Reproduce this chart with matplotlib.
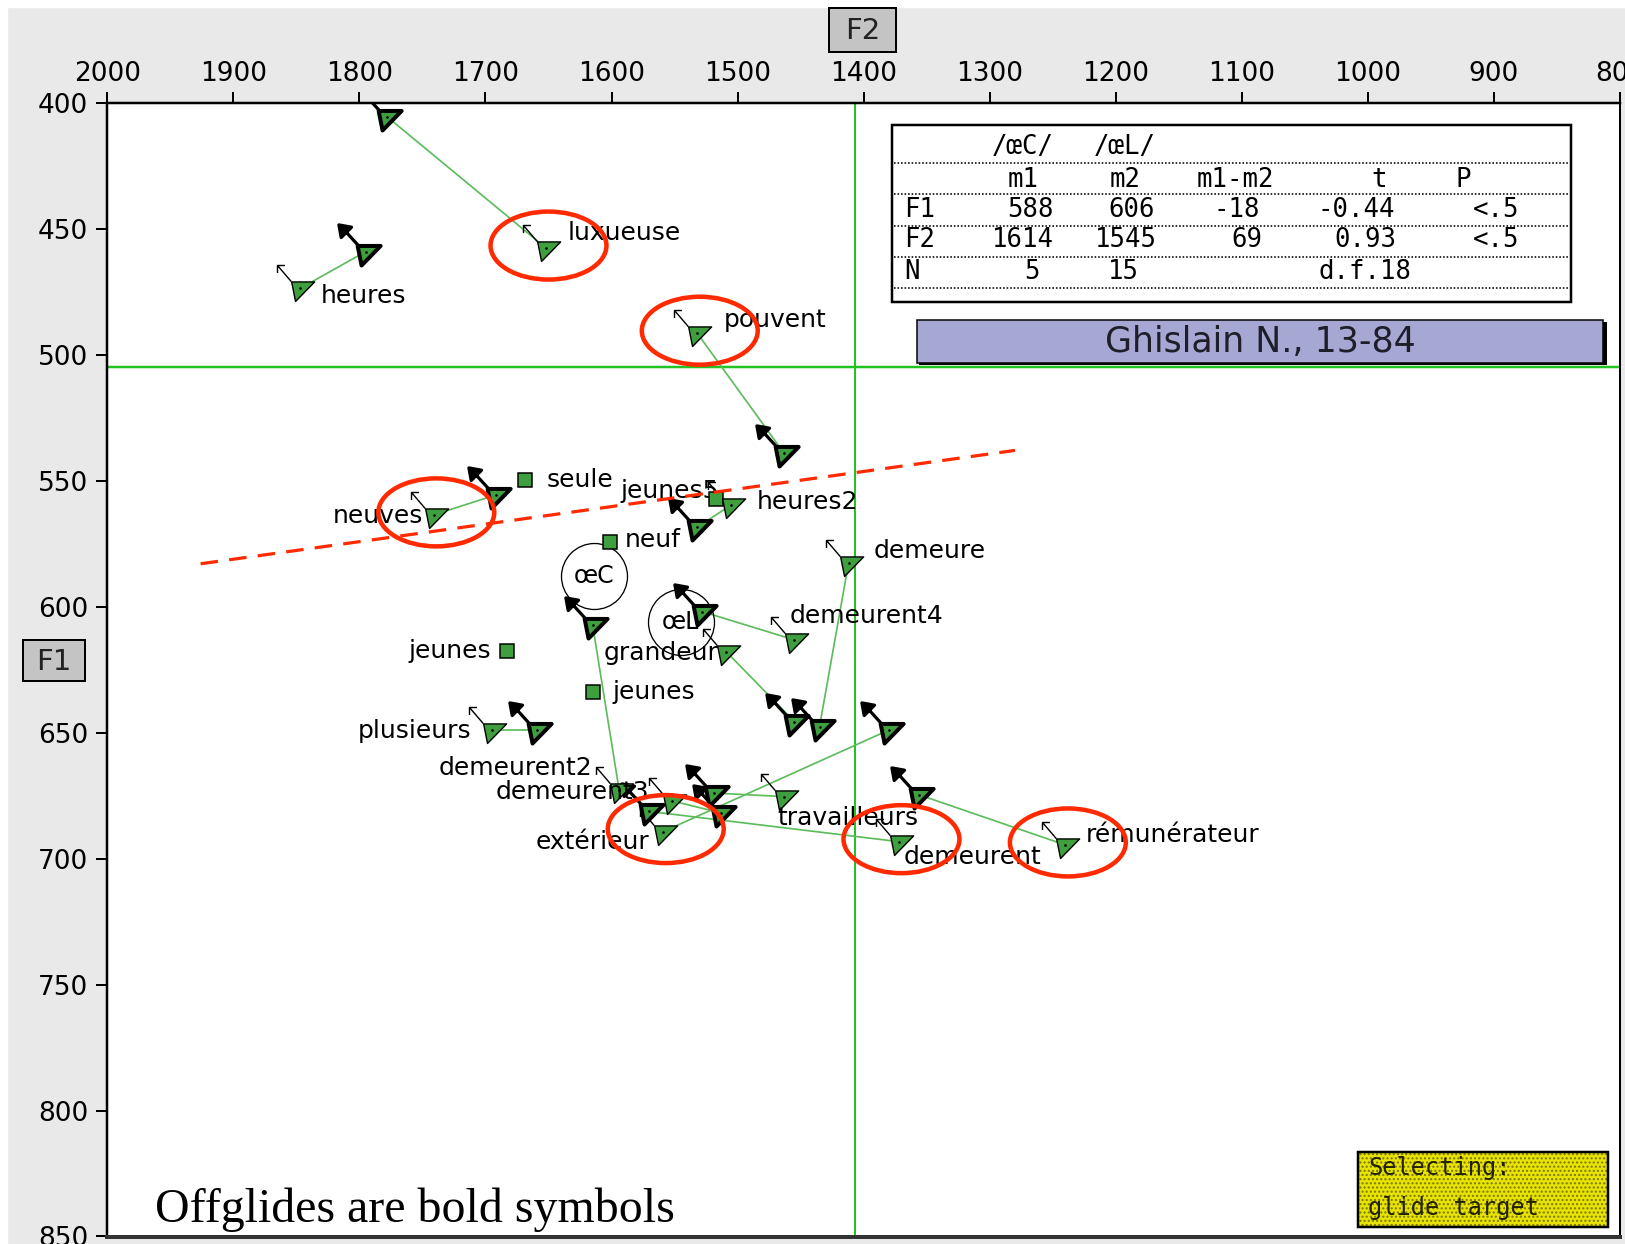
import numpy as np
import matplotlib
matplotlib.use('Agg')
import matplotlib.pyplot as plt
from matplotlib.path import Path
from matplotlib.markers import MarkerStyle
from matplotlib.patches import Rectangle, Ellipse

# ---------------- data ----------------
diph_words = ['luxueuse', 'heures', 'pouvent', 'neuves', 'heures2', 'demeure',
              'demeurent4', 'grandeur', 'demeurent2', 'plusieurs', 'demeurent3',
              'travailleurs', 'extérieur', 'demeurent', 'rémunérateur']
nuc_F2 = [1652, 1847, 1532, 1741, 1505, 1412, 1455, 1509, 1594, 1695, 1552, 1463, 1559, 1372, 1240]
nuc_F1 = [457.7, 473.7, 491.5, 563.6, 559.6, 582.8, 613.2, 617.9, 672.7, 649, 677.1, 675.4, 689.3, 693.3, 694.6]
off_F2 = [1778, 1795, 1463, 1692, 1532, 1435, 1528, 1455, 1615, 1659, 1513, 1519, 1380, 1570, 1356]
off_F1 = [405.6, 459.1, 539.2, 555.7, 568.5, 647.6, 602, 645.6, 607.3, 649, 681.9, 674, 649, 681.3, 674.7]

mono_words = ['seule', 'jeunes5', 'neuf', 'jeunes', 'jeunes']
mono_F2 = [1669, 1517, 1601, 1615, 1683]
mono_F1 = [549.7, 557.4, 574.2, 633.7, 617.5]

mean_labels = ['œC', 'œL']
mean_F1 = [588, 606]
mean_F2 = [1614, 1545]

ref_F1 = 505
ref_F2 = 1407
boundary_F2 = [1926, 1280]
boundary_F1 = [583, 538]

circled = ['luxueuse', 'pouvent', 'neuves', 'extérieur', 'demeurent', 'rémunérateur']

x_ticks = list(range(2000, 799, -100))
y_ticks = list(range(400, 851, 50))

table_header = ['/œC/', '/œL/']
table_cols = ['m1', 'm2', 'm1-m2', 't', 'P']
table_rows = [['F1', '588', '606', '-18', '-0.44', '<.5'],
              ['F2', '1614', '1545', '69', '0.93', '<.5'],
              ['N', '5', '15', '', 'd.f.18', '']]
speaker = 'Ghislain N., 13-84'
note = 'Offglides are bold symbols'
status = ['Selecting:', 'glide target']
x_name, y_name = 'F2', 'F1'

# ---------------- layout / style ----------------
W, H = 1625, 1244
DPI = 100
PT = 72.0 / DPI
GREEN = '#3f9f3f'
LINE_GREEN = '#5cbc5c'
MEAN_GREEN = '#22c322'
RED = '#ff2a00'
GRAY_BG = '#e9e9e9'
LABEL_FS = 18

diph_offsets = [(22, 8, 'left'), (21, -15, 'left'), (26, 6, 'left'), (-11, -8, 'right'),
                (25, -4, 'left'), (25, 5, 'left'), (-5, 17, 'left'), (-8, -8, 'right'),
                (-27, 15, 'right'), (-20, -8, 'right'), (-23, 2, 'right'),
                (-7, -28, 'left'), (-14, -17, 'right'), (5, -22, 'left'), (20, 3, 'left')]
mono_offsets = [(22, -7, 'left'), (3, 1, 'right'), (14, -5, 'left'), (20, -7, 'left'), (-16, -7, 'right')]


def pxmarker(verts, codes=None, scale=1.0):
    v = np.asarray(verts, float) * scale
    return MarkerStyle(Path(v, codes)), 2 * np.abs(v).max() * PT


SC = 1.15
tri_m, tri_s = pxmarker([(-7.7, 5.7), (12.3, 5.7), (-4.3, -11.3), (-7.7, 5.7)],
                        [Path.MOVETO, Path.LINETO, Path.LINETO, Path.CLOSEPOLY], SC)
thin_arrow_m, thin_arrow_s = pxmarker(
    [(-8, 6), (-20, 20), (-13.5, 20), (-20, 20), (-20, 13.5)],
    [Path.MOVETO, Path.LINETO, Path.MOVETO, Path.LINETO, Path.LINETO], SC)
bold_arrow_m, bold_arrow_s = pxmarker(
    [(-7, 6), (-17, 17), (-24, 24), (-13, 22), (-22, 13), (-24, 24)],
    [Path.MOVETO, Path.LINETO, Path.MOVETO, Path.LINETO, Path.LINETO, Path.CLOSEPOLY], SC)

fig = plt.figure(figsize=(W / DPI, H / DPI), dpi=DPI, facecolor=GRAY_BG)


def fx(x):
    return x / W


def fy(y):
    return 1 - y / H


# white margins from the screenshot
fig.add_artist(Rectangle((0, fy(7)), 1, 7 / H, transform=fig.transFigure, color='white', zorder=-5))
fig.add_artist(Rectangle((0, 0), 7 / W, 1, transform=fig.transFigure, color='white', zorder=-5))

ax = fig.add_axes([fx(107.3), fy(1236.5), (1620 - 107.3) / W, (1236.5 - 102.7) / H])
ax.set_facecolor('white')
ax.set_xlim(2000, 800)
ax.set_ylim(850, 400)
ax.set_xticks(x_ticks)
ax.set_yticks(y_ticks)
ax.xaxis.tick_top()
ax.tick_params(axis='x', direction='out', length=11 * PT, width=2 * PT, pad=5 * PT,
               labelsize=19, top=True, bottom=False, labeltop=True, labelbottom=False)
ax.tick_params(axis='y', direction='out', length=11 * PT, width=2 * PT, pad=8 * PT, labelsize=19)
for s in ['top', 'left']:
    ax.spines[s].set_linewidth(2.5 * PT)
ax.spines['right'].set_linewidth(2 * PT)
ax.spines['bottom'].set_linewidth(4 * PT)
ax.spines['bottom'].set_color('#333333')

# reference (mean) lines
ax.axhline(ref_F1, color=MEAN_GREEN, lw=2.5 * PT, zorder=1)
ax.axvline(ref_F2, color=MEAN_GREEN, lw=2 * PT, zorder=1)

# glide lines
for a, b, c, d in zip(nuc_F2, nuc_F1, off_F2, off_F1):
    ax.plot([a, c], [b, d], color=LINE_GREEN, lw=1.7 * PT, zorder=2)

# category means (circles)
ax.plot(mean_F2, mean_F1, ls='none', marker='o', ms=66 * PT, mfc='none', mec='black',
        mew=1.3 * PT, zorder=2.5)
for lab, x, y in zip(mean_labels, mean_F2, mean_F1):
    ax.text(x, y, lab, ha='center', va='center', fontsize=17, zorder=2.5)

# monophthong tokens (squares)
ax.plot(mono_F2, mono_F1, ls='none', marker='s', ms=14 * PT, mfc=GREEN, mec='black',
        mew=1.5 * PT, zorder=3.2)

# offglides (bold)
ax.plot(off_F2, off_F1, ls='none', marker=bold_arrow_m, ms=bold_arrow_s, mfc='black',
        mec='black', mew=3.2 * PT, zorder=3)
ax.plot(off_F2, off_F1, ls='none', marker=tri_m, ms=tri_s, mfc=GREEN, mec='black',
        mew=4 * PT, zorder=3.1)
ax.plot(off_F2, off_F1, ls='none', marker='.', ms=2.5 * PT, color='black', zorder=3.15)

# nuclei (plain)
ax.plot(nuc_F2, nuc_F1, ls='none', marker=thin_arrow_m, ms=thin_arrow_s, mfc='none',
        mec='black', mew=1.4 * PT, zorder=3)
ax.plot(nuc_F2, nuc_F1, ls='none', marker=tri_m, ms=tri_s, mfc=GREEN, mec='black',
        mew=1.4 * PT, zorder=3.3)
ax.plot(nuc_F2, nuc_F1, ls='none', marker='.', ms=2.5 * PT, color='black', zorder=3.35)

# word labels
for w, x, y, (dx, dy, ha) in zip(diph_words, nuc_F2, nuc_F1, diph_offsets):
    ax.annotate(w, (x, y), xytext=(dx, dy), textcoords='offset pixels', ha=ha,
                va='baseline', fontsize=LABEL_FS, zorder=4)
for w, x, y, (dx, dy, ha) in zip(mono_words, mono_F2, mono_F1, mono_offsets):
    ax.annotate(w, (x, y), xytext=(dx, dy), textcoords='offset pixels', ha=ha,
                va='baseline', fontsize=LABEL_FS, zorder=3.1)

# red overlay: boundary and highlighted tokens
ax.plot(boundary_F2, boundary_F1, color=RED, lw=3.2 * PT, ls=(0, (5.5, 3.5)), zorder=5)
for w, x, y in zip(diph_words, nuc_F2, nuc_F1):
    if w in circled:
        ax.add_patch(Ellipse((x - 2, y - 1), width=116 / 1.2615, height=68 / 2.52, fill=False,
                             ec=RED, lw=4.5 * PT, zorder=5))

# statistics table
fig.add_artist(Rectangle((fx(892), fy(302)), (1571 - 892) / W, (302 - 125) / H,
                         transform=fig.transFigure, fc='white', ec='black', lw=2.5 * PT, zorder=6))
for yy in [163, 194, 226, 257, 288]:
    fig.add_artist(plt.Line2D([fx(894), fx(1569)], [fy(yy), fy(yy)], transform=fig.transFigure,
                              color='black', lw=1.6 * PT, ls=(0, (1, 1.2)), zorder=6.5))
mono = 'DejaVu Sans Mono'
TFS = 18.5
for t, x in zip(table_header, [992, 1094]):
    fig.text(fx(x), fy(147), t, fontsize=TFS, family=mono, ha='left', va='center', zorder=7)
for t, x in zip(table_cols, [1008, 1110, 1197, 1371, 1455]):
    fig.text(fx(x), fy(180), t, fontsize=TFS, family=mono, ha='left', va='center', zorder=7)
row_y = [210, 240, 272]
row_x = [[904, 1007, 1108, 1213, 1318, 1473],
         [904, 992, 1095, 1231, 1334, 1473],
         [904, 1024, 1108, 1213, 1318, 1473]]
for r, yy, xs in zip(table_rows, row_y, row_x):
    for t, x in zip(r, xs):
        if t:
            fig.text(fx(x), fy(yy), t, fontsize=TFS, family=mono, ha='left', va='center', zorder=7)

# speaker box
fig.add_artist(Rectangle((fx(919), fy(365)), (1607 - 919) / W, (365 - 322) / H,
                         transform=fig.transFigure, fc='black', ec='none', zorder=6))
fig.add_artist(Rectangle((fx(916.8), fy(363)), (1603 - 916.8) / W, (363 - 320) / H,
                         transform=fig.transFigure, fc='#a7a7d3', ec='black', lw=1.5 * PT, zorder=6.1))
fig.text(fx(1260), fy(342), speaker, fontsize=25, ha='center', va='center', color='#1e1e2a', zorder=7)

# axis name boxes
for name, (x0, y0, x1, y1) in zip([x_name, y_name], [(829, 8.3, 896.3, 51.7), (22.8, 640.4, 85, 680.8)]):
    fig.add_artist(Rectangle((fx(x0), fy(y1)), (x1 - x0) / W, (y1 - y0) / H,
                             transform=fig.transFigure, fc='#c4c4c4', ec='black', lw=2 * PT, zorder=6))
    fig.text(fx((x0 + x1) / 2), fy((y0 + y1) / 2 + 1), name, fontsize=21, ha='center',
             va='center', color='#222222', zorder=7)

# note
fig.text(fx(155), fy(1222), note, fontsize=34.5, family='Liberation Serif', ha='left',
         va='baseline', zorder=7)

# status box
plt.rcParams['hatch.linewidth'] = 1.0
fig.add_artist(Rectangle((fx(1357.5), fy(1226.7)), (1608 - 1357.5) / W, (1226.7 - 1151.7) / H,
                         transform=fig.transFigure, fc='#e8e400', ec='#7a7600', lw=0, hatch='....',
                         zorder=6))
fig.add_artist(Rectangle((fx(1357.5), fy(1226.7)), (1608 - 1357.5) / W, (1226.7 - 1151.7) / H,
                         transform=fig.transFigure, fc='none', ec='black', lw=2.5 * PT, zorder=6.2))
for t, yy in zip(status, [1168, 1208]):
    fig.text(fx(1368), fy(yy), t, fontsize=17, family=mono, ha='left', va='center',
             color='#222200', zorder=7)

fig.savefig('out.png', dpi=DPI, facecolor=GRAY_BG)
